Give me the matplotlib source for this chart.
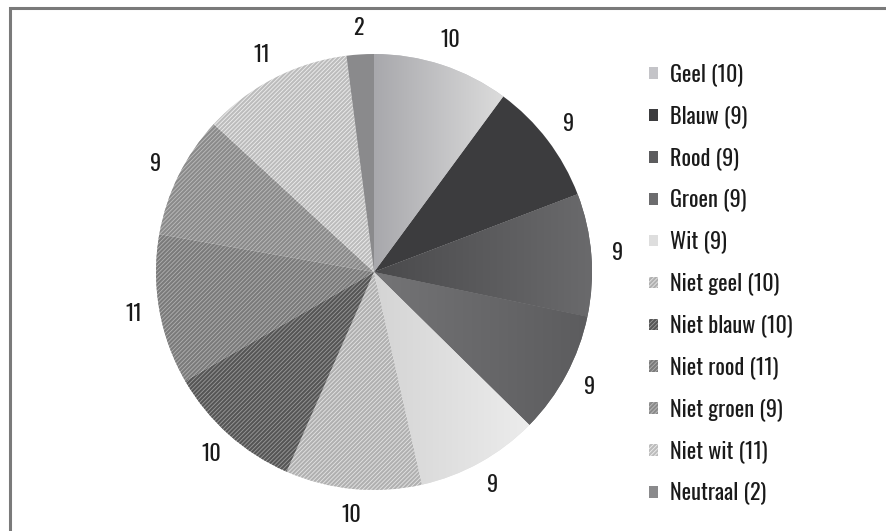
import numpy as np
import matplotlib
matplotlib.use("Agg")
import matplotlib.pyplot as plt
from matplotlib.patches import Rectangle
from matplotlib.colors import LinearSegmentedColormap

matplotlib.rcParams['font.family'] = ['Oswald', 'Sofia Sans Condensed', 'DejaVu Sans']
matplotlib.rcParams['hatch.linewidth'] = 1.5

labels = ["Geel", "Blauw", "Rood", "Groen", "Wit", "Niet geel", "Niet blauw",
          "Niet rood", "Niet groen", "Niet wit", "Neutraal"]
values = [10, 9, 9, 9, 9, 10, 10, 11, 9, 11, 2]

# fill colour, hatch colour (None = solid)
faces = ["#c4c4c8", "#3c3c3e", "#5c5c5e", "#6c6c6e", "#dedede", "#e4e4e4",
         "#9a9a9a", "#b0b0b0", "#bcbcbc", "#eeeeee", "#8a8a8c"]
hatches = [None, None, None, None, None, "#b0b0b0", "#555555", "#7a7a7a",
           "#8a8a8a", "#bcbcbc", None]
# left / right shades for the plain slices that fade across
shading = {0: ("#a8a8ac", "#dcdcdc"), 2: ("#4a4a4c", "#6a6a6c"),
           3: ("#747476", "#5c5c5e"), 4: ("#d4d4d4", "#ececec")}

fig = plt.figure(figsize=(8.87, 5.31), dpi=100)

# frame around the chart
fig.patches.append(Rectangle((10 / 887, -0.05), 1.2, 1 - 8 / 531 + 0.05,
                             transform=fig.transFigure, fill=False,
                             edgecolor="#7a7a7a", linewidth=2.2))

cx, cy, r = 374, 272, 218
ax = fig.add_axes([(cx - r) / 887, (531 - cy - r) / 531, 2 * r / 887, 2 * r / 531])
wedges, texts = ax.pie(values, labels=[str(v) for v in values], startangle=90,
                       counterclock=False, radius=1, labeldistance=1.12,
                       textprops=dict(fontsize=16, color="#1a1a1a"))
for t in texts:
    t.set_horizontalalignment("center")
ax.axis("off")

for i, (w, fc, hc) in enumerate(zip(wedges, faces, hatches)):
    w.set_facecolor(fc)
    w.set_linewidth(0)
    if hc is not None:
        w.set_hatch("////////")
        w.set_edgecolor(hc)
    if i in shading:
        cmap = LinearSegmentedColormap.from_list(f"s{i}", shading[i])
        th1, th2 = np.radians(w.theta1), np.radians(w.theta2)
        xs = np.cos(np.linspace(th1, th2, 50))
        x0, x1 = min(0, xs.min()), max(0, xs.max())
        grad = np.linspace(0, 1, 256).reshape(1, -1)
        im = ax.imshow(grad, cmap=cmap, extent=(x0, x1, -1, 1), aspect="auto",
                       zorder=w.get_zorder() + 0.1)
        im.set_clip_path(w)
ax.set_xlim(-1, 1)
ax.set_ylim(-1, 1)

leg = fig.legend(wedges, [f"{l} ({v})" for l, v in zip(labels, values)],
                 loc="upper left", bbox_to_anchor=(638 / 887, 1 - 52 / 531),
                 frameon=False, fontsize=16, handlelength=0.42, handleheight=0.42,
                 handletextpad=0.5, labelspacing=0.86, borderpad=0)
for t in leg.get_texts():
    t.set_color("#1a1a1a")

fig.savefig("out.png", dpi=100)
